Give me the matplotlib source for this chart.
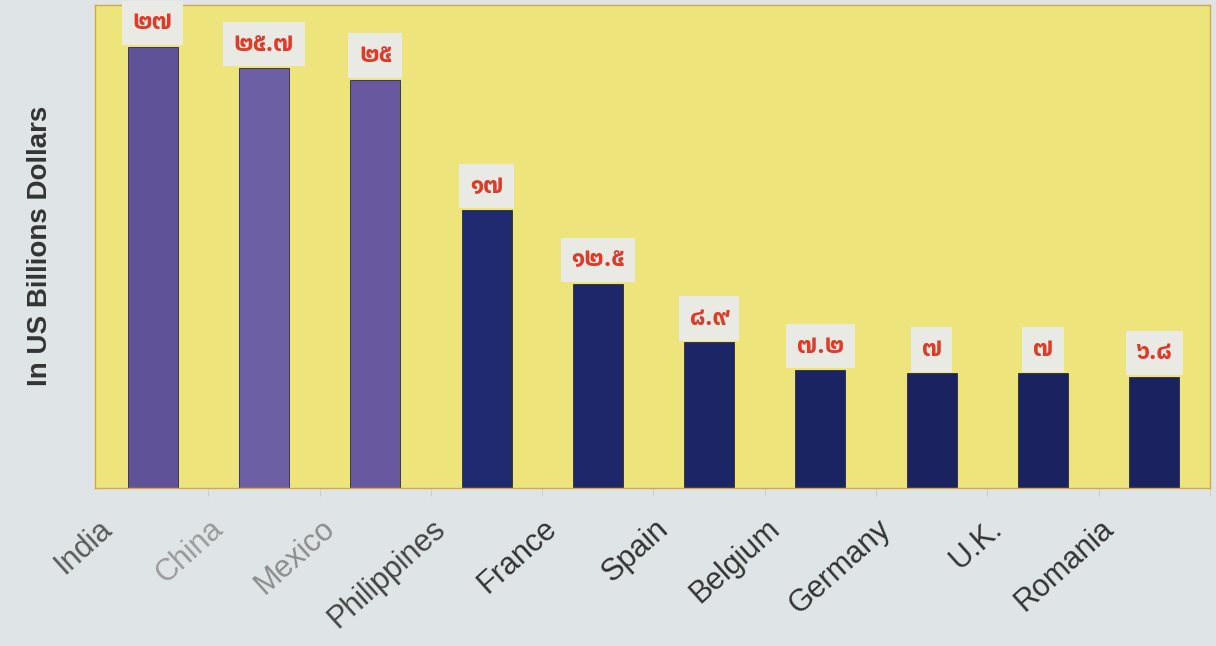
import numpy as np
import matplotlib.pyplot as plt
import matplotlib.transforms as mtransforms
from matplotlib import font_manager, ft2font

# data
paises = ["India", "China", "Mexico", "Philippines", "France",
          "Spain", "Belgium", "Germany", "U.K.", "Romania"]
valores = [27, 25.7, 25, 17, 12.5, 8.9, 7.2, 7, 7, 6.8]
rotulos = ["๒๗", "๒๕.๗", "๒๕", "๑๗", "๑๒.๕", "๘.๙", "๗.๒", "๗", "๗", "๖.๘"]

cor_barras = ["#5f5298", "#6c5fa3", "#6758a0", "#1f2a70", "#1d276a",
              "#1c2566", "#1b2462", "#1a2360", "#1a2360", "#1a2260"]
cor_nomes = ["#5a5a5a", "#9a9a9a", "#8c8c8c", "#444444", "#333333",
             "#333333", "#333333", "#333333", "#333333", "#333333"]


def fonte_thai():
    # procura uma fonte instalada que tenha os digitos tailandeses
    caminhos = sorted(font_manager.findSystemFonts(),
                      key=lambda p: (0 if "Sans" in p else 1, p))
    for p in caminhos:
        try:
            if 0x0E52 in ft2font.FT2Font(p).get_charmap():
                return font_manager.FontProperties(fname=p, size=17, weight="bold")
        except Exception:
            pass
    return font_manager.FontProperties(family="DejaVu Sans", size=17, weight="bold")


plt.rcParams["font.family"] = ["Liberation Sans", "DejaVu Sans"]

fig = plt.figure(figsize=(12.16, 6.46), dpi=100)
fig.patch.set_facecolor("#dfe4e6")
ax = fig.add_axes([0.078, 0.245, 0.917, 0.748])
ax.set_facecolor("#ede47c")

x = np.arange(len(paises))
ax.bar(x, valores, width=0.45, color=cor_barras, edgecolor="#2a2a40", linewidth=0.6)

fp = fonte_thai()
for xi, v, r in zip(x, valores, rotulos):
    ax.annotate(r, (xi, v), xytext=(0, 9), textcoords="offset points",
                ha="center", va="bottom", color="#e03a28", fontproperties=fp,
                bbox=dict(boxstyle="square,pad=0.45", fc="#e9eae4", ec="none"))

ax.set_xlim(-0.52, 9.45)
ax.set_ylim(0, 29.6)
ax.set_yticks([])
ax.set_xticks(x)
ax.set_xticklabels([])
ax.tick_params(axis="x", length=0)
ax.set_xticks(x + 0.5, minor=True)
ax.tick_params(axis="x", which="minor", length=6, color="#c8ccc8")

# nomes dos paises um pouco deslocados para a esquerda, como no original
base = ax.get_xaxis_transform()
desloc = mtransforms.ScaledTranslation(-0.55, -0.26, fig.dpi_scale_trans)
for xi, nome, c in zip(x, paises, cor_nomes):
    ax.text(xi, 0, nome, transform=base + desloc, rotation=42,
            ha="right", va="top", rotation_mode="anchor", fontsize=22, color=c)

for s in ax.spines.values():
    s.set_color("#d4a84a")
    s.set_linewidth(1)

ax.set_ylabel("In US Billions Dollars", fontsize=20, fontweight="bold", color="#333333", labelpad=30)

fig.savefig("out.png", dpi=100, facecolor=fig.get_facecolor())
